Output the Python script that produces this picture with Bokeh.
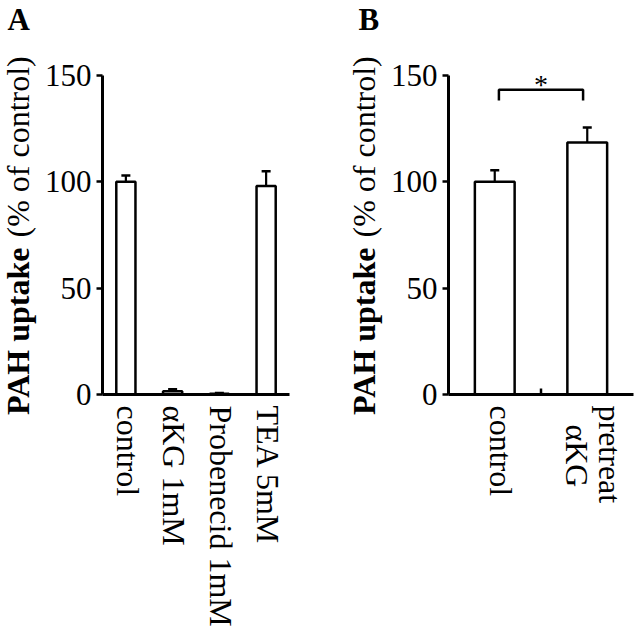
from bokeh.plotting import figure
from bokeh.models import (ColumnDataSource, Whisker, TeeHead, Label, Range1d,
                          FixedTicker, LinearAxis)
from bokeh.layouts import row
from bokeh.embed import file_html
from bokeh.resources import INLINE
import math

# ---- data ----
cats_a = ["control", "αKG 1mM", "Probenecid 1mM", "TEA 5mM"]
vals_a = [100, 1.5, 0.4, 98]
errs_a = [3, 1.0, 0.3, 7]

cats_b = ["control", "αKG pretreat"]
label_lines_b = [["control"], ["αKG", "pretreat"]]
vals_b = [100, 118.5]
errs_b = [5.5, 7]

yticks = [0, 50, 100, 150]
sig_bar_y = 143.3
sig_leg_y = 138.3
sig_star_y = 146.0

# ---- layout constants (pixels) ----
SERIF = "Liberation Serif"
W, H = 320, 628
Y0_PX, YTOP_PX = 394, 75          # pixel rows of y=0 and y=150
PPU_Y = (Y0_PX - YTOP_PX) / 150.0


def y_of(py):
    return (Y0_PX - py) / PPU_Y


def make_panel(n, ax_left, ax_right):
    ppu_x = (ax_right - ax_left) / n

    def x_of(px):
        return (px - ax_left) / ppu_x

    p = figure(width=W, height=H, x_range=Range1d(x_of(0), x_of(W)),
               y_range=Range1d(y_of(H), y_of(0)), min_border=0,
               output_backend="svg", toolbar_location=None)
    p.outline_line_color = None
    p.xgrid.visible = False
    p.ygrid.visible = False
    p.background_fill_color = "white"

    ya = p.yaxis[0]
    ya.fixed_location = 0
    ya.bounds = (0, 150)
    ya.ticker = FixedTicker(ticks=yticks)
    ya.axis_line_width = 3
    ya.axis_line_color = "black"
    ya.major_tick_out = 6
    ya.major_tick_in = 0
    ya.major_tick_line_width = 2.5
    ya.minor_tick_line_color = None
    ya.major_label_standoff = 5
    ya.major_label_text_font = SERIF
    ya.major_label_text_font_size = "31px"
    ya.major_label_text_color = "black"

    xa = p.xaxis[0]
    xa.fixed_location = 0
    xa.bounds = (0, n)
    xa.axis_line_width = 3
    xa.axis_line_color = "black"
    style_xlabels(xa)
    return p, x_of


def style_xlabels(xa):
    xa.major_tick_line_color = None
    xa.minor_tick_line_color = None
    xa.major_label_orientation = "vertical"
    xa.major_label_standoff = 5
    xa.major_label_text_font = SERIF
    xa.major_label_text_font_size = "32px"
    xa.major_label_text_color = "black"


def add_bars(p, xs, vals, errs, bar_w):
    src = ColumnDataSource(dict(x=xs, top=vals, lower=vals,
                                upper=[v + e for v, e in zip(vals, errs)]))
    p.vbar(x="x", top="top", width=bar_w, source=src, fill_color="white",
           line_color="black", line_width=2.5)
    p.add_layout(Whisker(source=src, base="x", lower="lower", upper="upper",
                         line_width=2.2, line_color="black", lower_head=None,
                         upper_head=TeeHead(size=9, line_width=2.5,
                                            line_color="black")))


def add_titles(p, x_of, title_px, letter, letter_px):
    p.add_layout(Label(x=x_of(title_px), y=y_of(247), text="PAH uptake",
                       angle=math.pi / 2, text_align="right",
                       text_baseline="middle", text_font=SERIF,
                       text_font_style="bold", text_font_size="32px",
                       text_color="black"))
    p.add_layout(Label(x=x_of(title_px), y=y_of(237), text="(% of control)",
                       angle=math.pi / 2, text_align="left",
                       text_baseline="middle", text_font=SERIF,
                       text_font_size="32px", text_color="black"))
    p.add_layout(Label(x=x_of(letter_px), y=y_of(1), text=letter,
                       text_align="left", text_baseline="top",
                       text_font=SERIF, text_font_style="bold",
                       text_font_size="31px", text_color="black"))


# ---- panel A ----
pa, xa_of = make_panel(len(cats_a), 102, 289)
pos_a = [i + 0.5 for i in range(len(cats_a))]
shift_a = 0.04
ticks_a = [round(x + shift_a, 3) for x in pos_a]
pa.xaxis[0].ticker = FixedTicker(ticks=ticks_a)
pa.xaxis[0].major_label_overrides = dict(zip(ticks_a, cats_a))
add_bars(pa, pos_a, vals_a, errs_a, 0.41)
add_titles(pa, xa_of, 17.5, "A", 7)

# ---- panel B ----
pb, xb_of = make_panel(len(cats_b), 128, 313)
pos_b = [i + 0.5 for i in range(len(cats_b))]
shift_b = 0.07
gap_b = 0.178
main_ticks, main_labels, sub_ticks, sub_labels = [], [], [], []
for x, lines in zip(pos_b, label_lines_b):
    if len(lines) == 1:
        main_ticks.append(round(x + shift_b, 3))
        main_labels.append(lines[0])
    else:
        sub_ticks.append(round(x + shift_b - gap_b, 3))
        sub_labels.append(lines[0])
        main_ticks.append(round(x + shift_b + gap_b, 3))
        main_labels.append(lines[1])
pb.xaxis[0].ticker = FixedTicker(ticks=main_ticks)
pb.xaxis[0].major_label_overrides = dict(zip(main_ticks, main_labels))

# first line of the two-line label, centred on the second line
sub_axis = LinearAxis(fixed_location=y_of(Y0_PX + 19), bounds=(0, 2),
                      axis_line_color=None,
                      ticker=FixedTicker(ticks=sub_ticks),
                      major_label_overrides=dict(zip(sub_ticks, sub_labels)))
style_xlabels(sub_axis)
pb.add_layout(sub_axis, "below")

# small inward tick mark between the two groups
mid_x = (pos_b[0] + pos_b[1]) / 2
pb.segment(x0=[mid_x], y0=[0], x1=[mid_x], y1=[6 / PPU_Y],
           line_width=2.5, line_color="black")

add_bars(pb, pos_b, vals_b, errs_b, 0.43)
add_titles(pb, xb_of, 43.5, "B", 38)

# significance bracket in panel B
inset = 0.045
bx0 = pos_b[0] + inset
bx1 = pos_b[1] - inset
pb.line(x=[bx0, bx0, bx1, bx1],
        y=[sig_leg_y, sig_bar_y, sig_bar_y, sig_leg_y],
        line_width=2.5, line_color="black")
pb.add_layout(Label(x=(bx0 + bx1) / 2, y=sig_star_y, text="*",
                    text_align="center", text_baseline="alphabetic",
                    text_font=SERIF, text_font_size="28px",
                    text_color="black"))

layout = row(pa, pb)
open("out.html", "w").write(file_html(layout, INLINE))
